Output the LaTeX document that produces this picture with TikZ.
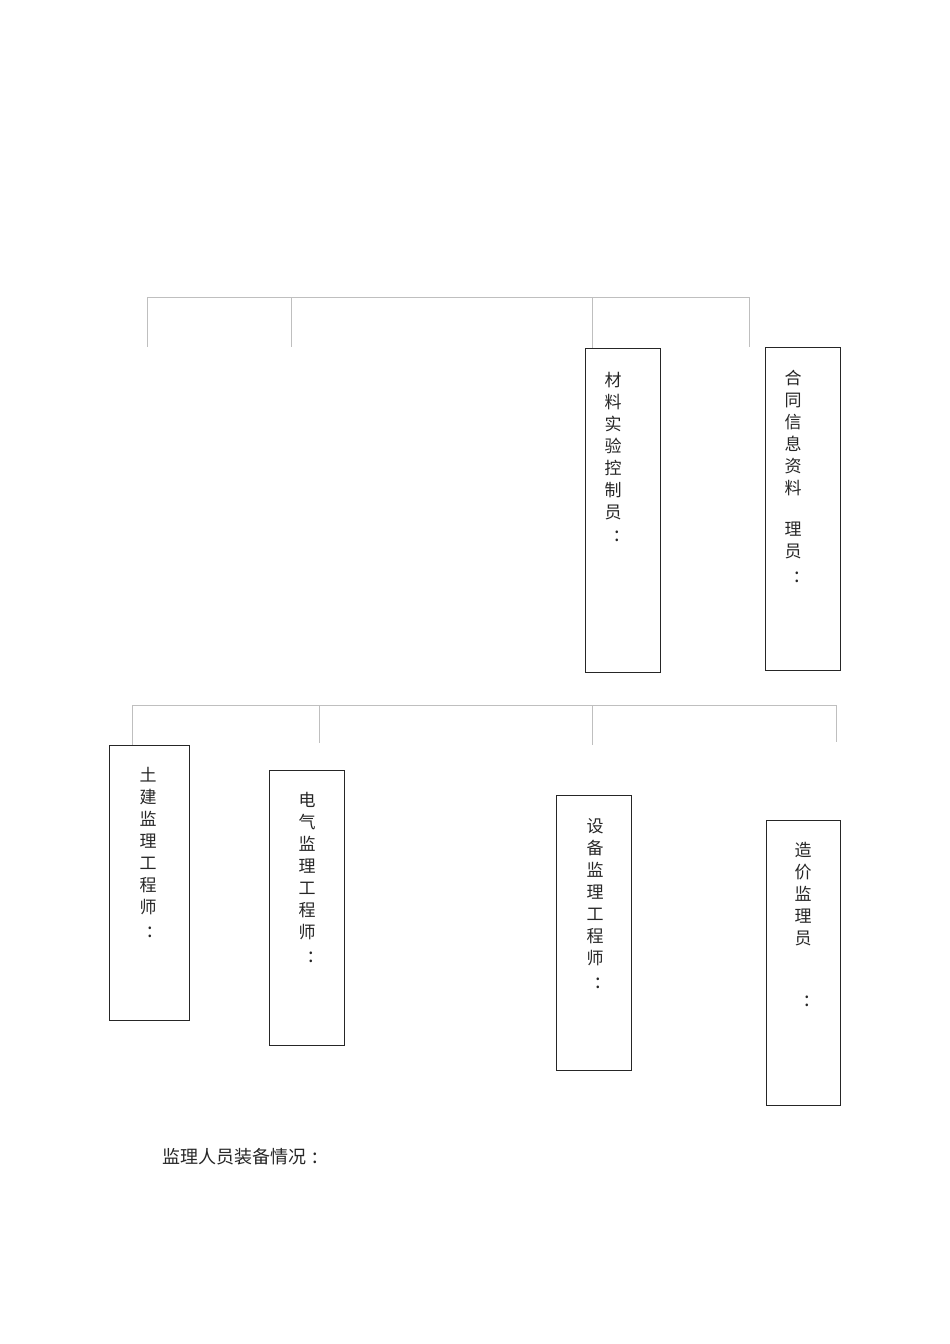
\documentclass[tikz,border=0pt]{standalone}
\usepackage{fontspec}
\setmainfont{Noto Sans CJK SC}
\newcommand{\colonmark}[1][6pt]{\makebox[0pt]{\hspace{#1}{\fontsize{20}{22}\selectfont :}}}
\begin{document}
\begin{tikzpicture}[x=1pt,y=-1pt,
  conn/.style={draw=black!25, line width=0.8pt},
  postbox/.style={draw=black!85, line width=0.9pt, inner sep=0pt},
  vtext/.style={font=\fontsize{17}{22}\selectfont, align=center, anchor=north, inner sep=0pt, text=black!85},
  plain/.style={font=\fontsize{18}{22}\selectfont, anchor=west, inner sep=0pt, text=black!85}]
\useasboundingbox (0,0) rectangle (950,1344);
% ---------- upper row ----------
\node[postbox, minimum width=75, minimum height=324] (b1) at (622.5,510) {};
\node[postbox, minimum width=75, minimum height=323] (b2) at (802.5,508.5) {};
\node[vtext] (t1) at (613,372) {材\\料\\实\\验\\控\\制\\员\\[1pt]\colonmark[8pt]};
\node[vtext] (t2) at (793,370) {合\\同\\信\\息\\资\\料\\[19pt]理\\员\\[3pt]\colonmark[8pt]};
\coordinate (ua) at (147,297);
\coordinate (ub) at (291,297);
\coordinate (uc) at (592,297);
\coordinate (ud) at (749,297);
\coordinate (uae) at (147,347);
\coordinate (ube) at (291,347);
\coordinate (ude) at (749,347);
\draw[conn] (ua) -- (ud);
\draw[conn] (ua) -- (uae);
\draw[conn] (ub) -- (ube);
\draw[conn] (uc) -- (b1.north -| uc);
\draw[conn] (ud) -- (ude);
% ---------- lower row ----------
\node[postbox, minimum width=80, minimum height=275] (c1) at (149,882.5) {};
\node[postbox, minimum width=75, minimum height=275] (c2) at (306.5,907.5) {};
\node[postbox, minimum width=75, minimum height=275] (c3) at (593.5,932.5) {};
\node[postbox, minimum width=74, minimum height=285] (c4) at (803,962.5) {};
\node[vtext] (s1) at (148,767) {土\\建\\监\\理\\工\\程\\师\\[2pt]\colonmark[4pt]};
\node[vtext] (s2) at (307,792) {电\\气\\监\\理\\工\\程\\师\\[2pt]\colonmark[8pt]};
\node[vtext] (s3) at (595,818) {设\\备\\监\\理\\工\\程\\师\\[2pt]\colonmark[6pt]};
\node[vtext] (s4) at (803,842) {造\\价\\监\\理\\员\\[40pt]\colonmark[8pt]};
\coordinate (la) at (132,705);
\coordinate (lb) at (319,705);
\coordinate (lc) at (592,705);
\coordinate (ld) at (836,705);
\coordinate (lbe) at (319,743);
\coordinate (lce) at (592,745);
\coordinate (lde) at (836,742);
\draw[conn] (la) -- (ld);
\draw[conn] (la) -- (c1.north -| la);
\draw[conn] (lb) -- (lbe);
\draw[conn] (lc) -- (lce);
\draw[conn] (ld) -- (lde);
% ---------- caption ----------
\node[plain] (cap) at (162,1157) {监理人员装备情况\hspace{6pt}{\fontsize{20}{22}\selectfont :}};
\end{tikzpicture}
\end{document}
